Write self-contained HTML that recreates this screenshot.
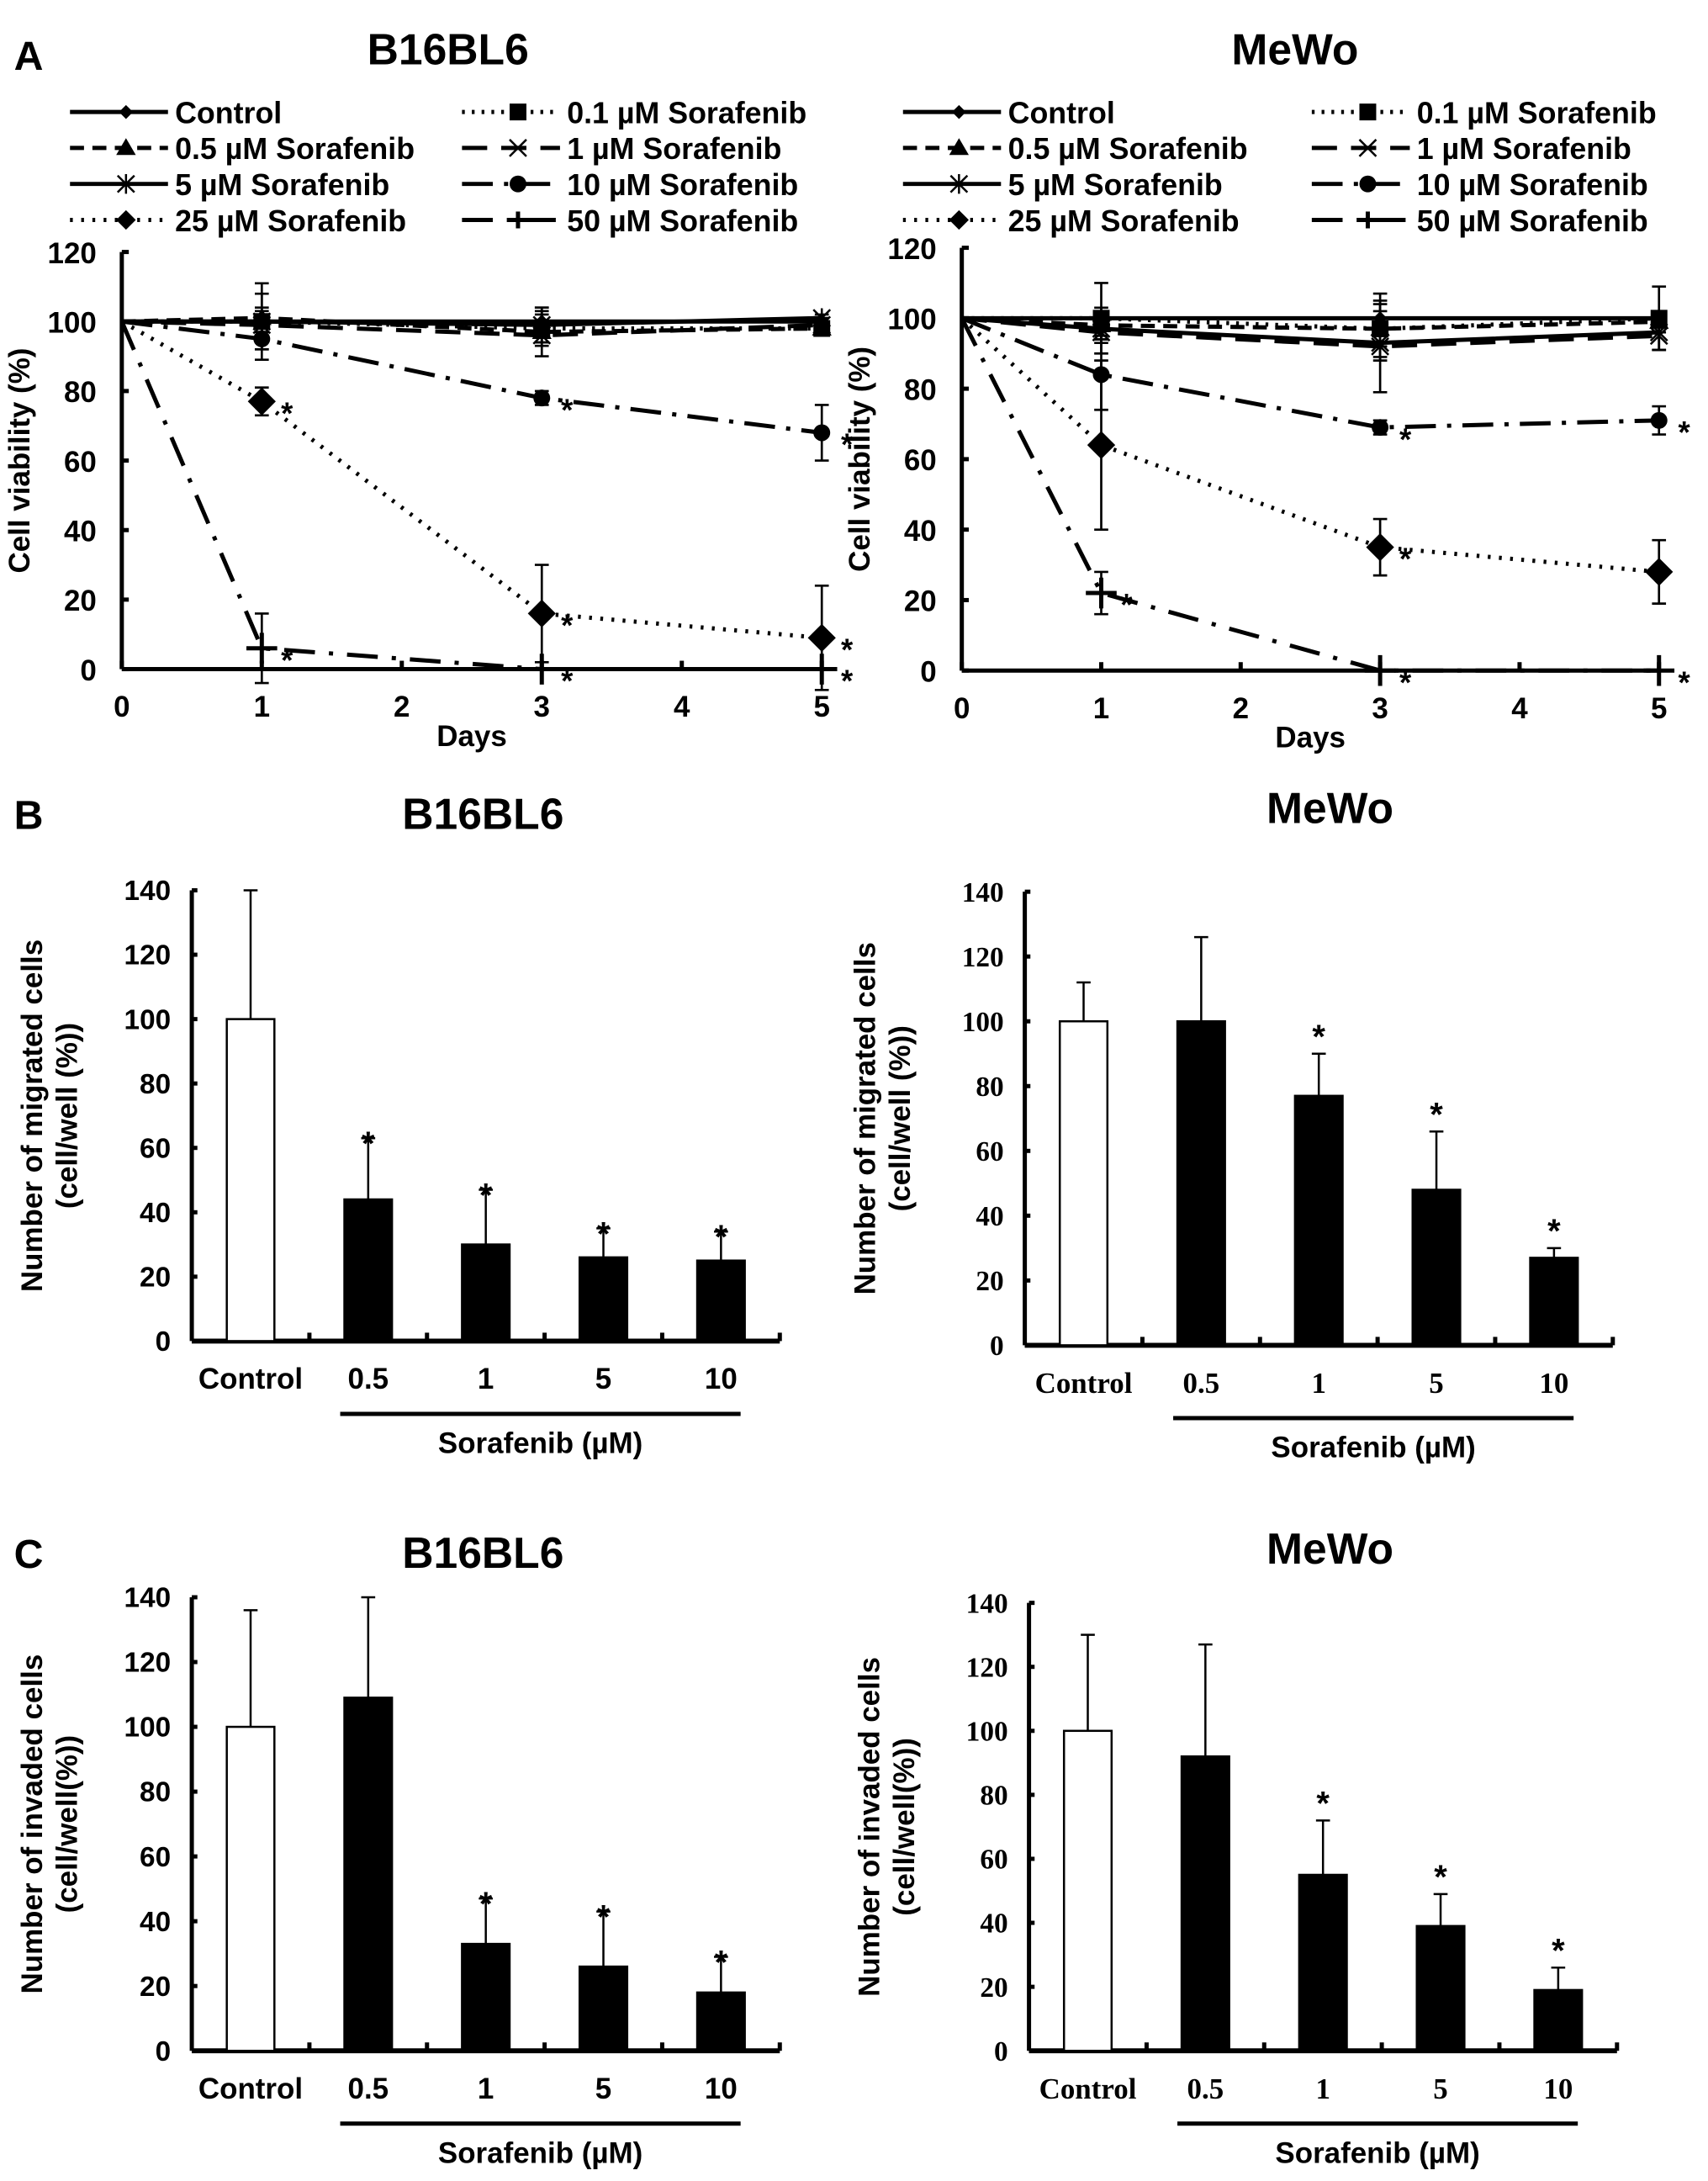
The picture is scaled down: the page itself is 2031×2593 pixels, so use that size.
<!DOCTYPE html>
<html><head><meta charset="utf-8"><style>
html,body{margin:0;padding:0;background:#fff}
svg{display:block}
text{font-family:"Liberation Sans",Arial,sans-serif;font-weight:bold;fill:#000}
.serif{font-family:"Liberation Serif",serif}
</style></head><body>
<svg id="fig" width="2031" height="2593" viewBox="0 0 1220 1558" preserveAspectRatio="none" xmlns="http://www.w3.org/2000/svg"></svg>
<script>
const days = [0, 1, 3, 5];
const seriesNames = ["Control","0.1 µM Sorafenib","0.5 µM Sorafenib","1 µM Sorafenib","5 µM Sorafenib","10 µM Sorafenib","25 µM Sorafenib","50 µM Sorafenib"];
const b16Viab = [[100,100,100,100],[100,100,98,98],[100,101,97,98],[100,99,96,99],[100,100,99,101],[100,95,78,68],[100,77,16,9],[100,6,0,0]];
const b16Err = [[0,3,4,1],[0,11,5,1],[0,3,3,1],[0,3,6,1],[0,8,5,1],[0,3,2,8],[0,4,14,15],[0,10,0,0]];
const mewoViab = [[100,100,100,100],[100,100,97,100],[100,98,97,99],[100,96,92,95],[100,97,93,96],[100,84,69,71],[100,64,35,28],[100,22,0,0]];
const mewoErr = [[0,3,4,1],[0,10,8,9],[0,3,5,3],[0,3,4,4],[0,3,14,5],[0,10,2,4],[0,24,8,9],[0,6,0,0]];
const b16Star = [[],[],[],[],[],[0,1,1],[1,1,1],[1,1,1]];
const barCats = ["Control","0.5","1","5","10"];
const yTicksA = [0,20,40,60,80,100,120];
const yTicksB = [0,20,40,60,80,100,120,140];
const migB16 = [100,44,30,26,25];
const migB16Err = [40,19,17,9,9];
const migMewo = [100,100,77,48,27];
const migMewoErr = [12,26,13,18,3];
const invB16 = [100,109,33,26,18];
const invB16Err = [36,31,14,17,11];
const invMewo = [100,92,55,39,19];
const invMewoErr = [30,35,17,10,7];

const NS="http://www.w3.org/2000/svg";
const svg=document.getElementById('fig');
function el(tag,attrs,parent,txt){const e=document.createElementNS(NS,tag);for(const k in attrs)e.setAttribute(k,attrs[k]);if(txt!==undefined)e.textContent=txt;(parent||svg).appendChild(e);return e;}
function txt(x,y,s,size,anchor,parent,name,cls){const t=el('text',{x:x,y:y,'font-size':size,'text-anchor':anchor||'middle'},parent,s);


if(cls)t.setAttribute('class',cls);return t;}

const dashes=["","2,5","10,6","18,10","","22,8,3,8","2,6","22,10,3,10"];
const widths=[3,3,3,3,3,3,3,3];
function marker(g,type,x,y,small){
  switch(type){
    case 0: el('polygon',{points:`${x},${y-5} ${x+5},${y} ${x},${y+5} ${x-5},${y}`,fill:'#000'},g);break;
    case 1: el('rect',{x:x-6,y:y-6,width:12,height:12,fill:'#000'},g);break;
    case 2: el('polygon',{points:`${x},${y-7} ${x+7},${y+5} ${x-7},${y+5}`,fill:'#000'},g);break;
    case 3: el('path',{d:`M${x-6} ${y-6}L${x+6} ${y+6}M${x+6} ${y-6}L${x-6} ${y+6}`,stroke:'#000','stroke-width':1.5},g);break;
    case 4: el('path',{d:`M${x-6} ${y-6}L${x+6} ${y+6}M${x+6} ${y-6}L${x-6} ${y+6}M${x} ${y-7}L${x} ${y+7}`,stroke:'#000','stroke-width':1.5},g);break;
    case 5: el('circle',{cx:x,cy:y,r:6,fill:'#000'},g);break;
    case 6: {const r=small?7:10;el('polygon',{points:`${x},${y-r} ${x+r},${y} ${x},${y+r} ${x-r},${y}`,fill:'#000'},g);break;}
    case 7: {const r=small?6:11;el('path',{d:`M${x-r} ${y}L${x+r} ${y}M${x} ${y-r}L${x} ${y+r}`,stroke:'#000','stroke-width':3},g);break;}
  }
}

function lineChart(o){
  const g=el('g',{});
  
  
  const X=d=>o.x0+d*o.dx, Y=v=>o.y0-v*(o.y0-o.y120)/120;
  txt(o.tx,46,o.title,31,'middle',g,'chart-title');
  const lg=el('g',{},g);
  
  
  seriesNames.forEach((n,i)=>{
    const col=i%2,row=Math.floor(i/2);
    const lx=col?o.lx2:o.lx1, ly=80+row*25.7;
    const e=el('g',{},lg);
    
    
    el('line',{x1:lx,y1:ly,x2:lx+70,y2:ly,stroke:'#000','stroke-width':3,'stroke-dasharray':dashes[i]},e);
    marker(e,i,lx+40,ly,true);
    txt(lx+75,ly+8,n,21.5,'start',e,'legend-label');
  });
  el('line',{x1:o.x0,y1:Y(120),x2:o.x0,y2:o.y0,stroke:'#000','stroke-width':3},g);
  el('line',{x1:o.x0,y1:o.y0,x2:X(5),y2:o.y0,stroke:'#000','stroke-width':3},g);
  yTicksA.forEach(v=>{el('line',{x1:o.x0,y1:Y(v),x2:o.x0+5,y2:Y(v),stroke:'#000','stroke-width':3},g);txt(o.x0-18,Y(v)+8,String(v),21,'end',g,'y-tick-label');});
  [0,1,2,3,4,5].forEach(d=>{el('line',{x1:X(d),y1:o.y0,x2:X(d),y2:o.y0-6,stroke:'#000','stroke-width':3},g);txt(X(d),o.y0+34,String(d),21,'middle',g,'x-tick-label');});
  txt((o.x0+X(5))/2,o.y0+55,'Days',21,'middle',g,'x-axis-title');
  const yt=txt(0,0,'Cell viability (%)',21,'middle',g,'y-axis-title');
  yt.setAttribute('transform',`translate(${o.x0-66},${(o.y0+o.y120)/2}) rotate(-90)`);
  o.vals.forEach((s,i)=>{
    const sg=el('g',{},g);
    
    
    el('polyline',{points:days.map((d,k)=>X(d)+','+Y(s[k])).join(' '),fill:'none',stroke:'#000','stroke-width':widths[i],'stroke-dasharray':dashes[i]},sg);
    days.forEach((d,k)=>{
      const e=o.errs[i][k];
      if(e>0){el('path',{d:`M${X(d)} ${Y(s[k]-e)}L${X(d)} ${Y(s[k]+e)}M${X(d)-5} ${Y(s[k]+e)}L${X(d)+5} ${Y(s[k]+e)}M${X(d)-5} ${Y(s[k]-e)}L${X(d)+5} ${Y(s[k]-e)}`,stroke:'#000','stroke-width':1.6,fill:'none'},sg);}
      if(k>0)marker(sg,i,X(d),Y(s[k]));
      if(k>0&&o.stars[i]&&o.stars[i][k-1])txt(X(d)+18,Y(s[k])+16,'*',22,'middle',sg,'significance-star');
    });
  });
}
lineChart({name:'viability-chart-b16bl6',title:'B16BL6',tx:320,x0:87,dx:100,y0:478,y120:180,lx1:50,lx2:330,vals:b16Viab,errs:b16Err,stars:b16Star});
lineChart({name:'viability-chart-mewo',title:'MeWo',tx:925,x0:687,dx:99.6,y0:479,y120:177,lx1:645,lx2:937,vals:mewoViab,errs:mewoErr,stars:[[],[],[],[],[],[0,1,1],[0,1,0],[1,1,1]]});
txt(10,50,'A',29,'start',null,'panel-label-a');
txt(10,592,'B',29,'start',null,'panel-label-b');
txt(10,1120,'C',29,'start',null,'panel-label-c');

function barChart(o){
  const g=el('g',{});
  
  
  const Y=v=>o.y0-v*(o.y0-o.y140)/140;
  txt(o.tx,o.ty,o.title,31,'middle',g,'chart-title');
  const cls=o.serif?'serif':'';
  el('line',{x1:o.x0,y1:Y(140),x2:o.x0,y2:o.y0,stroke:'#000','stroke-width':3},g);
  el('line',{x1:o.x0,y1:o.y0,x2:o.x0+420,y2:o.y0,stroke:'#000','stroke-width':3.5},g);
  yTicksB.forEach(v=>{el('line',{x1:o.x0,y1:Y(v),x2:o.x0+4,y2:Y(v),stroke:'#000','stroke-width':3},g);txt(o.x0-15,Y(v)+7,String(v),20,'end',g,'y-tick-label',cls);});
  for(let k=1;k<=5;k++)el('line',{x1:o.x0+k*84,y1:o.y0,x2:o.x0+k*84,y2:o.y0-6,stroke:'#000','stroke-width':3},g);
  o.vals.forEach((v,i)=>{
    const cx=o.x0+42+i*84;
    const e=o.errs[i];
    el('line',{x1:cx,y1:Y(v),x2:cx,y2:Y(v+e),stroke:'#000','stroke-width':1.5},g);
    el('line',{x1:cx-5,y1:Y(v+e),x2:cx+5,y2:Y(v+e),stroke:'#000','stroke-width':1.5},g);
    const b=el('rect',{x:cx-17,y:Y(v),width:34,height:o.y0-Y(v),fill:i?'#000':'#fff',stroke:'#000','stroke-width':1.5},g);
    
    
    txt(cx,o.y0+34,barCats[i],21,'middle',g,'x-tick-label',cls);
    if(o.stars[i])txt(cx,Y(v+e)+(o.serif?-4:12),'*',24,'middle',g,'significance-star');
  });
  el('line',{x1:o.x0+106,y1:o.y0+52,x2:o.x0+392,y2:o.y0+52,stroke:'#000','stroke-width':3},g);
  txt(o.x0+249,o.y0+80,'Sorafenib (µM)',21,'middle',g,'x-axis-title');
  const t1=txt(0,0,o.ylab1,21,'middle',g,'y-axis-title');
  t1.setAttribute('transform',`translate(${o.x0-107},${(o.y0+o.y140)/2}) rotate(-90)`);
  const t2=txt(0,0,o.ylab2,21,'middle',g,'y-axis-title');
  t2.setAttribute('transform',`translate(${o.x0-82},${(o.y0+o.y140)/2}) rotate(-90)`);
}
barChart({name:'migration-chart-b16bl6',title:'B16BL6',tx:345,ty:592,x0:137,y0:958,y140:636,vals:migB16,errs:migB16Err,stars:[0,1,1,1,1],ylab1:'Number of migrated cells',ylab2:'(cell/well (%))'});
barChart({name:'migration-chart-mewo',title:'MeWo',tx:950,ty:588,x0:732,y0:961,y140:637,vals:migMewo,errs:migMewoErr,stars:[0,0,1,1,1],serif:true,ylab1:'Number of migrated cells',ylab2:'(cell/well (%))'});
barChart({name:'invasion-chart-b16bl6',title:'B16BL6',tx:345,ty:1120,x0:137,y0:1465,y140:1141,vals:invB16,errs:invB16Err,stars:[0,0,1,1,1],ylab1:'Number of invaded cells',ylab2:'(cell/well(%))'});
barChart({name:'invasion-chart-mewo',title:'MeWo',tx:950,ty:1117,x0:735,y0:1465,y140:1145,vals:invMewo,errs:invMewoErr,stars:[0,0,1,1,1],serif:true,ylab1:'Number of invaded cells',ylab2:'(cell/well(%))'});
</script>
</body></html>
